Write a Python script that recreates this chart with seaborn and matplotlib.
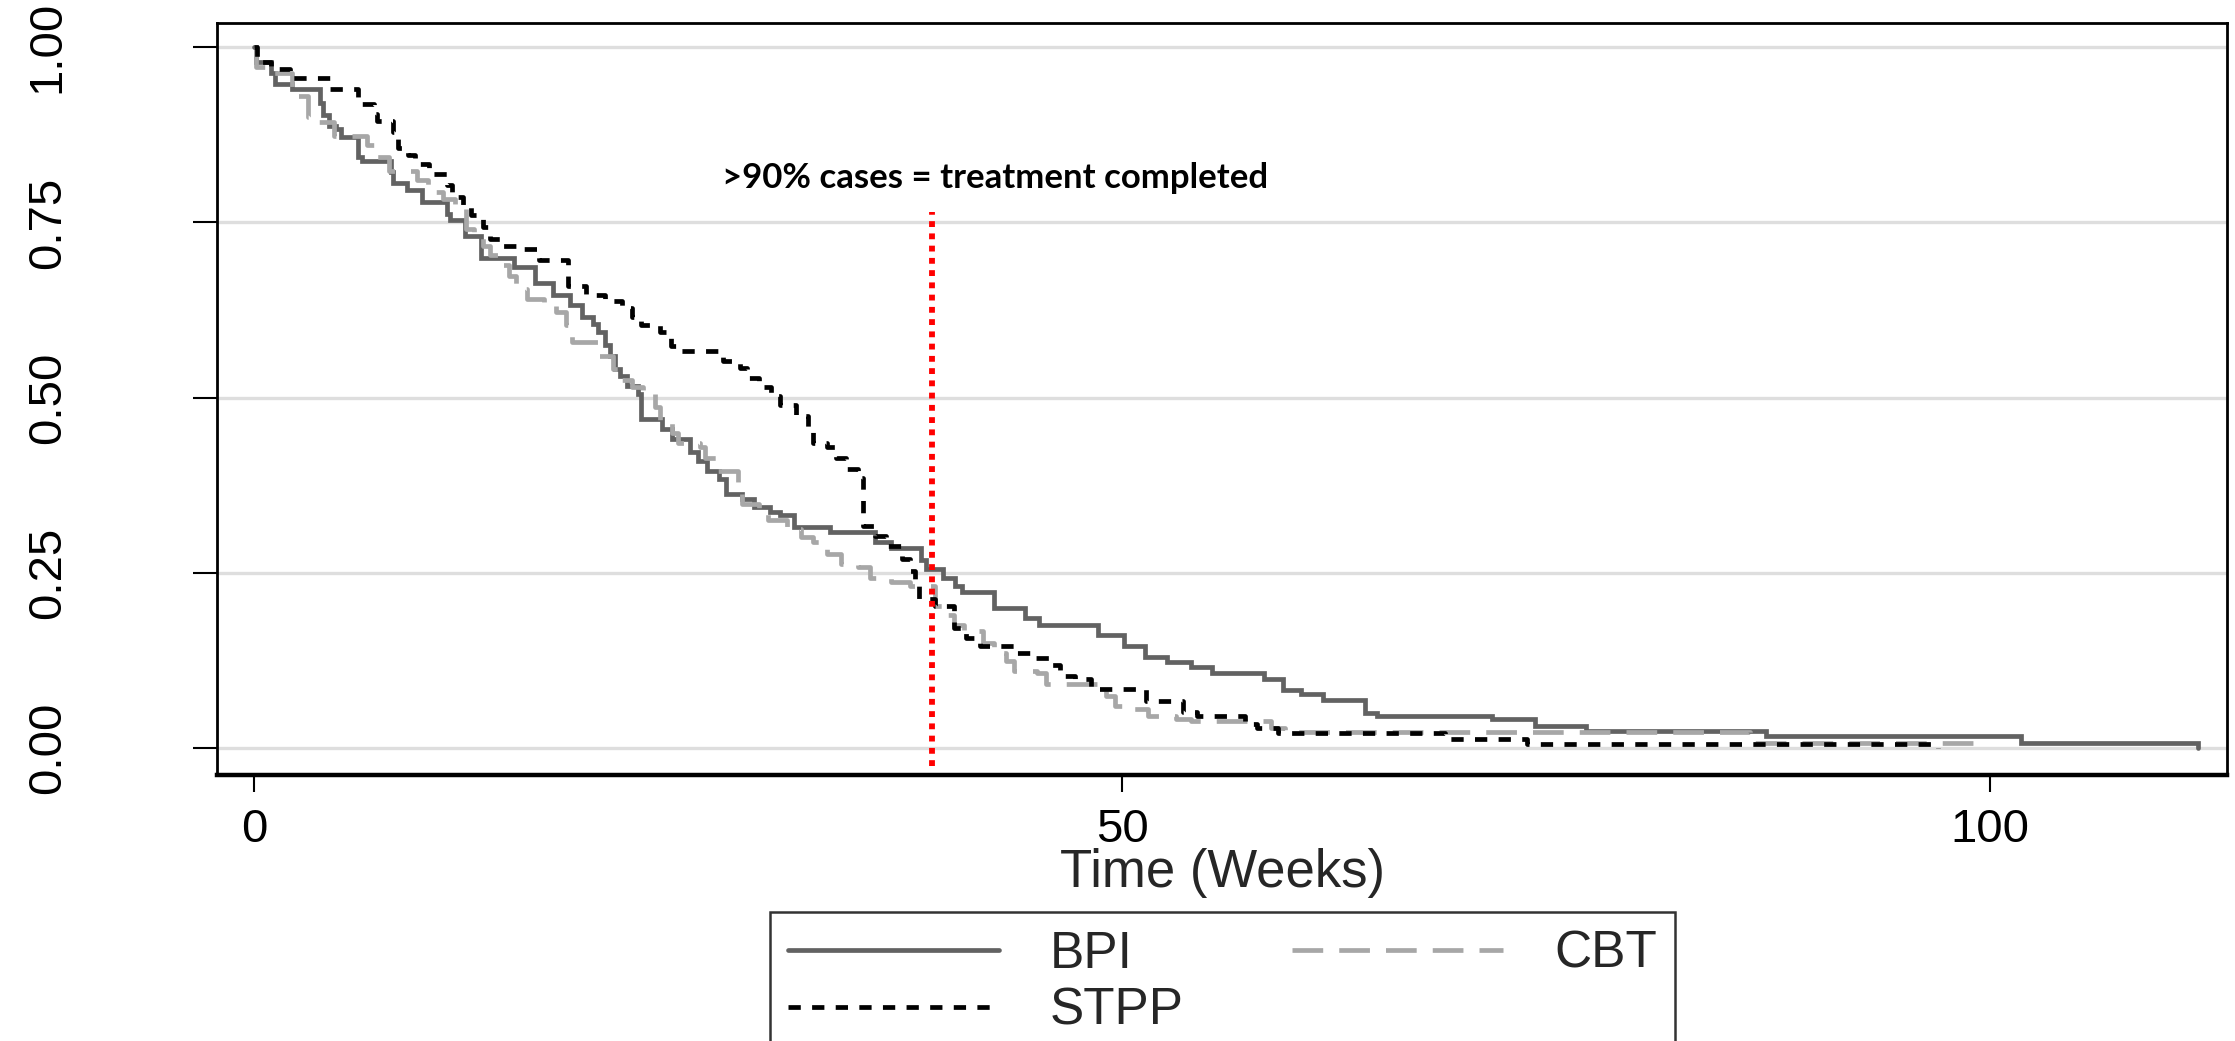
import numpy as np
import pandas as pd
import matplotlib
matplotlib.use("Agg")
import matplotlib.pyplot as plt
from matplotlib.lines import Line2D
import seaborn as sns

# ---------------- data ----------------
bpi_weeks = [0, 0.1, 1.0, 1.2, 2.2, 3.8, 4.0, 4.3, 4.7, 5.0,
             6.0, 6.2, 7.9, 8.0, 8.8, 9.7, 11.1, 11.3, 12.15, 13.1,
             15.0, 16.2, 17.2, 18.2, 18.9, 19.5, 19.8, 20.2, 20.5, 20.8,
             21.1, 21.5, 22.1, 22.3, 23.5, 24.1, 25.1, 25.6, 26.1, 26.8,
             27.2, 28.1, 28.8, 29.7, 30.3, 31.1, 33.2, 35.8, 36.7, 38.4,
             38.7, 39.7, 40.4, 40.8, 42.6, 44.4, 45.2, 48.6, 50.1, 51.3,
             52.6, 54.0, 55.2, 58.2, 59.3, 60.3, 61.6, 64.0, 64.7, 71.3,
             73.8, 76.7, 87.1, 101.8, 112.0]
bpi_surv = [1.0, 0.979, 0.964, 0.948, 0.941, 0.92, 0.903, 0.888, 0.884, 0.872,
            0.843, 0.838, 0.822, 0.807, 0.796, 0.779, 0.762, 0.753, 0.731, 0.70,
            0.686, 0.663, 0.646, 0.632, 0.615, 0.605, 0.594, 0.575, 0.56, 0.541,
            0.531, 0.517, 0.505, 0.47, 0.455, 0.441, 0.422, 0.41, 0.396, 0.384,
            0.363, 0.355, 0.344, 0.337, 0.332, 0.315, 0.308, 0.294, 0.285, 0.268,
            0.255, 0.242, 0.231, 0.222, 0.20, 0.186, 0.176, 0.161, 0.145, 0.13,
            0.123, 0.115, 0.107, 0.098, 0.083, 0.077, 0.068, 0.05, 0.046, 0.041,
            0.031, 0.024, 0.017, 0.007, 0.0]

cbt_weeks = [0, 0.1, 1.0, 2.2, 3.1, 3.6, 4.6, 6.5, 6.9, 7.8,
             9.4, 10.0, 10.9, 11.6, 12.2, 12.7, 13.2, 13.6, 14.2, 14.7,
             15.1, 15.7, 16.7, 17.4, 18.0, 18.3, 19.8, 20.7, 21.2, 21.8,
             22.4, 23.1, 23.4, 24.1, 24.4, 25.7, 26.0, 26.6, 27.9, 28.1,
             29.1, 29.6, 30.7, 31.5, 32.2, 33.0, 33.8, 34.8, 35.5, 36.7,
             37.8, 39.2, 39.8, 40.3, 40.9, 42.0, 42.6, 43.3, 43.8, 45.1,
             45.6, 49.1, 49.6, 50.7, 51.5, 53.1, 54.0, 58.6, 59.4, 86.2,
             99.0]
cbt_surv = [1.0, 0.972, 0.963, 0.93, 0.90, 0.893, 0.874, 0.86, 0.843, 0.824,
            0.81, 0.793, 0.784, 0.77, 0.74, 0.731, 0.717, 0.703, 0.689, 0.674,
            0.655, 0.641, 0.632, 0.622, 0.603, 0.58, 0.56, 0.541, 0.525, 0.515,
            0.508, 0.486, 0.465, 0.45, 0.436, 0.429, 0.414, 0.396, 0.365, 0.348,
            0.339, 0.325, 0.313, 0.301, 0.294, 0.277, 0.263, 0.258, 0.243, 0.237,
            0.231, 0.202, 0.19, 0.176, 0.167, 0.15, 0.136, 0.124, 0.11, 0.107,
            0.092, 0.074, 0.06, 0.055, 0.046, 0.042, 0.038, 0.029, 0.023, 0.007,
            0.007]

stpp_weeks = [0, 0.15, 1.0, 2.1, 4.4, 6.0, 6.9, 7.1, 8.0, 8.3,
              8.9, 9.3, 10.1, 11.1, 11.4, 12.05, 12.5, 13.2, 13.6, 14.3,
              15.3, 16.4, 18.1, 19.1, 20.2, 21.2, 21.8, 22.3, 23.4, 24.0,
              24.4, 27.0, 28.0, 28.4, 29.1, 29.8, 30.3, 31.2, 31.9, 32.2,
              33.0, 33.5, 34.1, 34.8, 35.1, 35.8, 36.4, 37.3, 37.8, 38.1,
              38.3, 39.2, 40.3, 41.0, 41.8, 43.8, 45.0, 45.8, 46.4, 47.3,
              48.2, 51.4, 53.5, 54.3, 57.1, 57.8, 59.0, 68.6, 73.3, 97.0]
stpp_surv = [1.0, 0.979, 0.969, 0.956, 0.941, 0.919, 0.905, 0.895, 0.879, 0.857,
             0.846, 0.833, 0.819, 0.803, 0.786, 0.774, 0.76, 0.743, 0.727, 0.717,
             0.712, 0.696, 0.66, 0.646, 0.638, 0.628, 0.615, 0.603, 0.594, 0.574,
             0.566, 0.553, 0.543, 0.528, 0.515, 0.502, 0.489, 0.474, 0.458, 0.436,
             0.429, 0.414, 0.398, 0.386, 0.317, 0.303, 0.289, 0.27, 0.253, 0.234,
             0.213, 0.203, 0.172, 0.157, 0.145, 0.136, 0.129, 0.119, 0.103, 0.098,
             0.084, 0.067, 0.051, 0.045, 0.034, 0.028, 0.022, 0.013, 0.006, 0.0]

groups = ["BPI", "CBT", "STPP"]
x_ticks = [0, 50, 100]
y_ticks = [0.0, 0.25, 0.50, 0.75, 1.00]
y_tick_labels = ["0.00", "0.25", "0.50", "0.75", "1.00"]
completion_week = 39.07
completion_ymin, completion_ymax = -0.026, 0.765
annotation_text = ">90% cases = treatment completed"
annotation_pos = (42.7, 0.813)
x_label = "Time (Weeks)"

# ---------------- styling ----------------
colors = {"BPI": "#626262", "CBT": "#a7a7a7", "STPP": "#000000"}
dashes = {"BPI": "", "CBT": (6.5, 3.4), "STPP": (2.6, 2.4)}
LW = 3.4

sns.set_style("white")
plt.rcParams["font.family"] = ["Liberation Sans", "DejaVu Sans"]

df = pd.concat([
    pd.DataFrame({"week": bpi_weeks, "surv": bpi_surv, "group": "BPI"}),
    pd.DataFrame({"week": cbt_weeks, "surv": cbt_surv, "group": "CBT"}),
    pd.DataFrame({"week": stpp_weeks, "surv": stpp_surv, "group": "STPP"}),
], ignore_index=True)

fig = plt.figure(figsize=(22.35, 10.41), dpi=100)
ax = fig.add_axes([217 / 2235, 1 - 775 / 1041, (2227 - 217) / 2235, (775 - 23) / 1041])

# grid lines
for yv in y_ticks:
    ax.axhline(yv, color="#dedede", lw=2.4, zorder=0)

sns.lineplot(data=df, x="week", y="surv", hue="group", style="group",
             hue_order=groups, style_order=groups,
             palette=colors, dashes=dashes, estimator=None, sort=True,
             drawstyle="steps-post", lw=LW, legend=False, ax=ax, zorder=3)
for ln in ax.get_lines():
    ln.set_dash_capstyle("butt")
    ln.set_solid_joinstyle("miter")

ax.vlines(completion_week, completion_ymin, completion_ymax, colors="#ff0000",
          lw=4.2, linestyles=(0, (1, 1.1)), zorder=4)
ax.text(annotation_pos[0], annotation_pos[1], annotation_text, ha="center", va="center",
        fontsize=25, fontweight="bold", family=["Lato", "DejaVu Sans"], color="black")

ax.set_xlim(-2.13, 113.65)
ax.set_ylim(-0.0385, 1.0347)
ax.set_xticks(x_ticks)
ax.set_xticklabels([str(v) for v in x_ticks])
ax.set_yticks(y_ticks)
ax.set_yticklabels(y_tick_labels, rotation=90, va="center")
ax.tick_params(axis="x", length=12, width=1.5, pad=12, labelsize=34, direction="out",
               bottom=True, colors="black")
ax.tick_params(axis="y", length=17, width=1.5, pad=89, labelsize=34, direction="out",
               left=True, colors="black")
ax.set_xlabel(x_label, fontsize=38, labelpad=-3)
ax.set_ylabel("")
for sp in ax.spines.values():
    sp.set_visible(True)
    sp.set_color("black")
    sp.set_linewidth(2.0)
ax.spines["bottom"].set_linewidth(3.2)

handles = [
    Line2D([], [], color=colors["BPI"], lw=LW),
    Line2D([], [], color=colors["STPP"], lw=LW, dashes=dashes["STPP"], dash_capstyle="butt"),
    Line2D([], [], color=colors["CBT"], lw=LW, dashes=dashes["CBT"], dash_capstyle="butt"),
]
labels = ["BPI", "STPP", "CBT"]
leg = fig.legend(handles, labels, loc="upper left", bbox_to_anchor=(770 / 2235, 1 - 912 / 1041),
                 ncol=2, fontsize=37, handlelength=4.1, handletextpad=1.0, columnspacing=2.1,
                 borderpad=0.35, labelspacing=0.15, borderaxespad=0, fancybox=False,
                 frameon=True, edgecolor="black")
leg.get_frame().set_linewidth(1.8)

fig.savefig("out.png", dpi=100)
